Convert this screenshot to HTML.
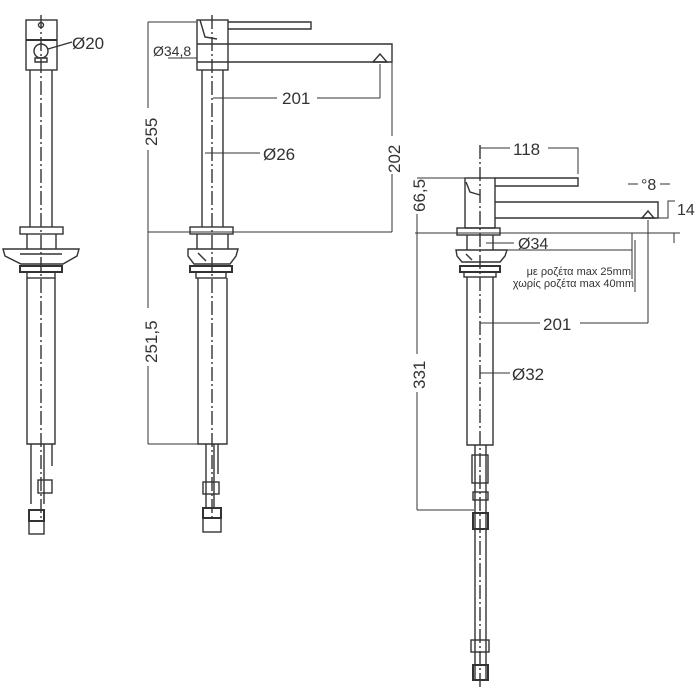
<!DOCTYPE html><html><head><style>body{margin:0;background:#fff}svg{display:block}text{font-family:"Liberation Sans",sans-serif;fill:#333}</style></head><body>
<svg width="700" height="700" viewBox="0 0 700 700" xmlns="http://www.w3.org/2000/svg" stroke="#333" fill="none" stroke-width="1.4">
<!-- LEFT VIEW -->
<rect x="26" y="20" width="31" height="50"/><line x1="26" y1="40" x2="57" y2="40" stroke-width="2"/>
<circle cx="41" cy="25" r="2.5"/><circle cx="41" cy="51" r="7"/><path d="M35 58 h12 v4 h-12z"/>
<line x1="48" y1="49" x2="72" y2="42"/><text x="72" y="49" font-size="17" stroke="none">Ø20</text>
<line x1="30" y1="70" x2="30" y2="227"/><line x1="52" y1="70" x2="52" y2="227"/>
<rect x="20" y="227" width="43" height="7"/><path d="M27 234 v15 M56 234 v15"/>
<path d="M3 249 h76 l-2 7 l-14 8 h-42 l-16 -8z"/><line x1="20" y1="254" x2="62" y2="254"/>
<rect x="20" y="266" width="42" height="6" stroke-width="2"/><rect x="27" y="272" width="28" height="6"/>
<path d="M27 278 v166 h28 v-166"/>
<path d="M31 444 v60 M44 444 v60 M52 444 v22"/><rect x="38" y="480" width="14" height="13"/>
<rect x="29" y="510" width="15" height="11" stroke-width="2"/><rect x="29" y="521" width="15" height="13"/>
<line x1="41" y1="15" x2="41" y2="520" stroke-dasharray="14,3,2,3"/>
<!-- MIDDLE VIEW -->
<rect x="197" y="20" width="31" height="50"/><path d="M228 22 h83 v7 h-83"/>
<path d="M228 44 h164 v18 h-164"/><line x1="197" y1="44" x2="228" y2="44"/><line x1="197" y1="62" x2="228" y2="62"/>
<path d="M373 62 l7 -8 l7 8z"/><path d="M200 20 l5 17 l12 2"/>
<line x1="202" y1="70" x2="202" y2="227"/><line x1="223" y1="70" x2="223" y2="227"/>
<rect x="190" y="227" width="43" height="7"/><path d="M197 234 v15 M228 234 v15"/>
<path d="M188 249 h50 l-2 7 l-6 8 h-36 l-6 -8z"/><path d="M198 253 l8 8"/>
<rect x="190" y="266" width="42" height="6" stroke-width="2"/><rect x="196" y="272" width="30" height="6"/>
<path d="M198 278 v166 h29 v-166"/>
<path d="M206 444 v64 M214 444 v64 M218 444 v30"/><rect x="203" y="482" width="16" height="12"/>
<rect x="203" y="508" width="18" height="10" stroke-width="2"/><rect x="203" y="518" width="18" height="14"/>
<line x1="212" y1="15" x2="212" y2="520" stroke-dasharray="14,3,2,3"/>
<!-- middle dims -->
<path d="M148 22 h48 M148 22 v86 M148 150 v82 M148 232 h244 M148 444 h50" stroke-width="1"/>
<text transform="translate(157 146) rotate(-90)" font-size="17" stroke="none">255</text>
<path d="M148 232 v76 M148 366 v78" stroke-width="1"/>
<text transform="translate(157 363) rotate(-90)" font-size="17" stroke="none">251,5</text>
<path d="M392 62 v74 M392 174 v58" stroke-width="1"/>
<text transform="translate(400 173) rotate(-90)" font-size="17" stroke="none">202</text>
<path d="M213 98 h64 M317 98 h63 M380 64 v34" stroke-width="1"/><text x="282" y="104" font-size="17" stroke="none">201</text>
<path d="M205 153 h55" stroke-width="1"/><text x="263" y="160" font-size="17" stroke="none">Ø26</text>
<text x="153" y="56" font-size="14" stroke="none">Ø34,8</text><path d="M168 58 h29" stroke-width="1"/>
<!-- RIGHT VIEW -->
<rect x="465" y="178" width="30" height="50"/><path d="M495 178 h83 v8 h-83"/><path d="M466 182 l4 10 l10 3"/>
<path d="M495 202 h163 v16 h-163"/><path d="M642 218 l6 -7 l6 7z"/>
<rect x="457" y="228" width="43" height="7"/><path d="M467 235 v15 M493 235 v15"/>
<path d="M456 250 h51 l-2 6 l-5 6 h-38 l-5 -6z"/><path d="M466 254 l6 6"/>
<rect x="460" y="266" width="40" height="6" stroke-width="2"/><rect x="464" y="272" width="32" height="5"/>
<path d="M467 277 v168 h26 v-168"/>
<path d="M475 445 v235 M486 445 v235"/><rect x="472" y="455" width="16" height="28"/><rect x="473" y="492" width="15" height="8"/>
<rect x="473" y="513" width="15" height="16" stroke-width="2"/><rect x="471" y="640" width="18" height="12"/><rect x="473" y="665" width="15" height="15" stroke-width="2"/>
<line x1="480" y1="145" x2="480" y2="690" stroke-dasharray="14,3,2,3"/>
<!-- right dims -->
<path d="M417 178 h48 M417 178 v0 M417 214 v140 M417 392 v118 M415 233 h265 M417 510 h57" stroke-width="1"/>
<text transform="translate(425 212) rotate(-90)" font-size="17" stroke="none">66,5</text>
<text transform="translate(425 389) rotate(-90)" font-size="17" stroke="none">331</text>
<path d="M480 148 h30 M548 148 h30 v26" stroke-width="1"/><text x="513" y="155" font-size="17" stroke="none">118</text>
<path d="M628 184 h10 M660 184 h10" stroke-width="1"/><text x="641" y="190" font-size="16" stroke="none">°8</text>
<path d="M658 218 h10 v-17 h7" stroke-width="1"/><text x="677" y="215" font-size="16" stroke="none">14</text>
<path d="M674 233 v10" stroke-width="1"/>
<path d="M486 243 h28" stroke-width="1"/><text x="518" y="249" font-size="16" stroke="none">Ø34</text>
<path d="M470 250 h162 M632 233 v46 M635 240 v52" stroke-width="1"/>
<text x="631" y="275" font-size="11" stroke="none" text-anchor="end">με ροζέτα max 25mm</text>
<text x="634" y="287" font-size="11" stroke="none" text-anchor="end">χωρίς ροζέτα max 40mm</text>
<path d="M480 323 h60 M580 323 h68 M648 220 v103" stroke-width="1"/><text x="543" y="330" font-size="17" stroke="none">201</text>
<path d="M480 373 h30" stroke-width="1"/><text x="512" y="380" font-size="17" stroke="none">Ø32</text>
</svg></body></html>
